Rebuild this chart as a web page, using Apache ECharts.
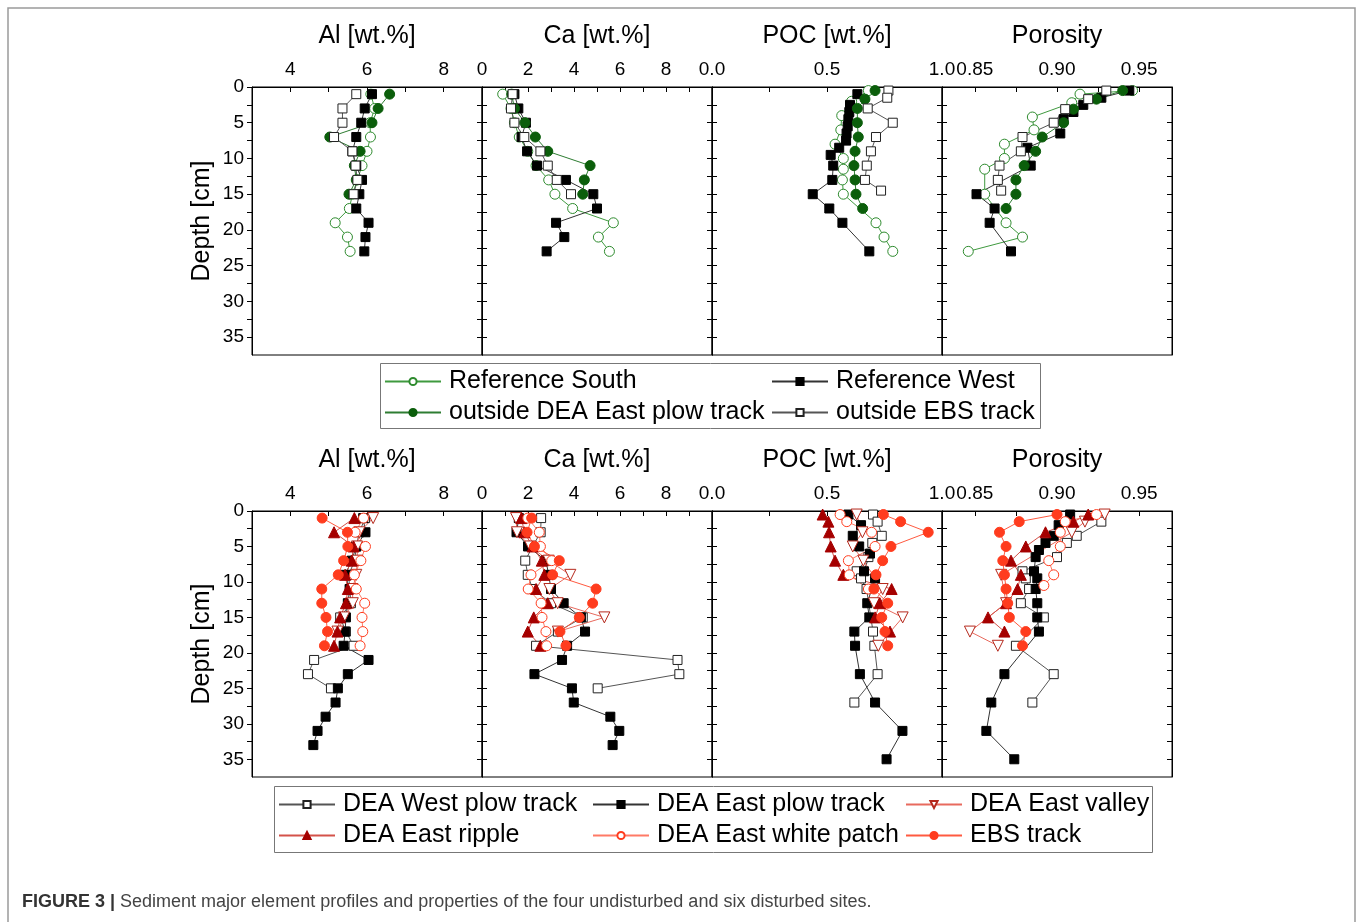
<!DOCTYPE html>
<html lang="en">
<head>
<meta charset="UTF-8">
<title>Figure 3</title>
<script src="https://cdn.jsdelivr.net/npm/echarts@6/dist/echarts.min.js"></script>
<style>
  html, body { margin: 0; padding: 0; background: #fff; }
  #main { width: 1358px; height: 922px; }
</style>
</head>
<body>
<div id="main"></div>
<script>
// depth steps (cm)
var dOdd15 = [1, 3, 5, 7, 9, 11, 13, 15];
var dOdd17 = [1, 3, 5, 7, 9, 11, 13, 15, 17];
var dOdd19 = [1, 3, 5, 7, 9, 11, 13, 15, 17, 19];
var dOdd23 = [1, 3, 5, 7, 9, 11, 13, 15, 17, 19, 21, 23];
var dOdd25 = [1, 3, 5, 7, 9, 11, 13, 15, 17, 19, 21, 23, 25];
var dOdd33 = [1, 3, 5, 7, 9, 11, 13, 15, 17, 19, 21, 23, 25, 27, 29, 31, 33];

// ---- undisturbed sites (top row) ----
var topAlRefSouth = [6.10, 6.20, 6.08, 6.09, 6.00, 5.87, 5.75, 5.62, 5.54, 5.17, 5.49, 5.56];
var topAlRefWest  = [6.13, 5.94, 5.85, 5.72, 5.62, 5.72, 5.87, 5.80, 5.72, 6.04, 5.96, 5.93];
var topAlPlow     = [6.59, 6.29, 6.13, 5.03, 5.82, 5.67, 5.72, 5.53];
var topAlEbs      = [5.72, 5.36, 5.36, 5.14, 5.62, 5.70, 5.75, 5.65];

var topCaRefSouth = [0.90, 1.26, 1.41, 1.62, 1.99, 2.35, 2.90, 3.17, 3.94, 5.71, 5.06, 5.54];
var topCaRefWest  = [1.41, 1.58, 1.91, 1.72, 1.96, 2.39, 3.65, 4.84, 5.00, 3.22, 3.58, 2.81];
var topCaPlow     = [1.29, 1.41, 1.87, 2.32, 2.86, 4.70, 4.45, 4.38];
var topCaEbs      = [1.33, 1.26, 1.41, 1.84, 2.54, 2.86, 3.25, 3.87];

var topPocRefSouthD = [0.5, 2, 4, 6, 8, 10, 11.5, 13, 15, 19, 21, 23];
var topPocRefSouth  = [0.680, 0.607, 0.564, 0.560, 0.535, 0.571, 0.571, 0.567, 0.571, 0.713, 0.748, 0.786];
var topPocRefWestD  = [1, 2.5, 3.5, 4.5, 5.5, 6.5, 7.5, 8.5, 9.5, 11, 13, 15, 17, 19, 23];
var topPocRefWest   = [0.632, 0.600, 0.597, 0.593, 0.590, 0.585, 0.583, 0.553, 0.516, 0.527, 0.523, 0.438, 0.510, 0.567, 0.684];
var topPocPlowD     = [0.5, 1.7, 3, 5, 7, 9, 11, 13, 15, 17];
var topPocPlow      = [0.709, 0.665, 0.632, 0.632, 0.636, 0.622, 0.617, 0.622, 0.626, 0.655];
var topPocEbsD      = [0.5, 1.5, 3, 5, 7, 9, 11, 13, 14.5];
var topPocEbs       = [0.767, 0.762, 0.677, 0.786, 0.713, 0.691, 0.673, 0.665, 0.735];

var topPorRefSouthD = [0.5, 1, 2.2, 4.2, 6, 8, 10, 11.5, 15, 19, 21, 23];
var topPorRefSouth  = [0.946, 0.914, 0.909, 0.885, 0.886, 0.868, 0.868, 0.856, 0.856, 0.869, 0.879, 0.846];
var topPorRefWestD  = [0.5, 1.5, 2.5, 3.5, 4.5, 6.5, 8.5, 11, 15, 17, 19, 23];
var topPorRefWest   = [0.944, 0.927, 0.916, 0.910, 0.904, 0.902, 0.882, 0.884, 0.851, 0.862, 0.859, 0.872];
var topPorPlowD     = [0.5, 1.7, 3.1, 5, 7, 9, 11, 13, 15, 17];
var topPorPlow      = [0.940, 0.924, 0.910, 0.904, 0.891, 0.887, 0.880, 0.875, 0.875, 0.869];
var topPorEbsD      = [0.5, 1.7, 3.1, 5, 7, 9, 11, 13, 14.5];
var topPorEbs       = [0.930, 0.919, 0.905, 0.898, 0.879, 0.878, 0.865, 0.864, 0.866];

// ---- disturbed sites (bottom row) ----
var botAlWest   = [5.95, 5.80, 5.72, 5.68, 5.52, 5.55, 5.58, 5.30, 5.45, 5.65, 4.62, 4.46, 5.06];
var botAlEast   = [5.90, 5.96, 5.72, 5.60, 5.43, 5.55, 5.50, 5.45, 5.43, 5.39, 6.04, 5.50, 5.24, 5.18, 4.92, 4.71, 4.60];
var botAlValley = [6.16, 5.80, 5.74, 5.75, 5.72, 5.62, 5.63, 5.40, 5.23];
var botAlRipple = [5.67, 5.14, 5.65, 5.60, 5.43, 5.50, 5.45, 5.30, 5.23, 5.14];
var botAlWhite  = [5.91, 5.69, 5.96, 5.84, 5.67, 5.72, 5.94, 5.87, 5.89, 5.82];
var botAlEbs    = [4.83, 5.49, 5.50, 5.39, 5.25, 4.82, 4.82, 4.93, 4.97, 4.89];

var botCaWest   = [2.57, 2.55, 2.20, 1.88, 1.99, 2.20, 3.00, 4.38, 3.30, 2.35, 8.50, 8.58, 5.03];
var botCaEast   = [1.60, 1.50, 2.00, 2.78, 2.90, 3.00, 3.55, 4.30, 4.48, 3.70, 3.48, 2.28, 3.91, 3.99, 5.58, 5.97, 5.68];
var botCaValley = [1.48, 1.52, 2.10, 2.90, 3.84, 2.93, 3.29, 5.32, 3.30];
var botCaRipple = [1.72, 1.84, 2.20, 2.60, 2.71, 2.35, 2.86, 2.25, 1.99, 2.54];
var botCaWhite  = [1.99, 2.49, 2.54, 3.03, 2.13, 2.01, 2.57, 2.61, 2.78, 2.81];
var botCaEbs    = [2.16, 1.96, 2.28, 3.36, 3.07, 4.96, 4.81, 4.23, 3.39, 3.65];

var botPocWestD   = [0.5, 1.5, 3.5, 4.5, 6.5, 8.5, 9.5, 11, 17, 19, 23, 27];
var botPocWest    = [0.700, 0.720, 0.738, 0.697, 0.680, 0.629, 0.648, 0.672, 0.700, 0.706, 0.720, 0.619];
var botPocEastD   = [0.5, 2, 3.5, 5, 6, 8.5, 9.5, 13, 15, 17, 19, 23, 27, 31, 35];
var botPocEast    = [0.593, 0.648, 0.612, 0.640, 0.687, 0.661, 0.709, 0.675, 0.684, 0.619, 0.622, 0.643, 0.709, 0.828, 0.759];
var botPocValleyD = [0.5, 3, 5, 7, 11, 13, 15, 19];
var botPocValley  = [0.629, 0.654, 0.612, 0.658, 0.742, 0.704, 0.829, 0.723];
var botPocRippleD = [0.5, 1.5, 3, 5, 7, 9, 11, 13, 15, 17];
var botPocRipple  = [0.481, 0.506, 0.509, 0.516, 0.535, 0.571, 0.781, 0.730, 0.709, 0.774];
var botPocWhiteD  = [0.5, 1.5, 3, 5, 7, 9, 11];
var botPocWhite   = [0.557, 0.586, 0.694, 0.709, 0.593, 0.597, 0.680];
var botPocEbsD    = [0.5, 1.5, 3, 5, 7, 9, 11, 13, 15, 17, 19];
var botPocEbs     = [0.745, 0.820, 0.940, 0.778, 0.742, 0.713, 0.704, 0.764, 0.738, 0.752, 0.764];

var botPorWestD   = [1.5, 3.5, 4.5, 6.5, 8.5, 9.5, 11, 13, 15, 19, 23, 27];
var botPorWest    = [0.927, 0.912, 0.906, 0.900, 0.879, 0.881, 0.883, 0.878, 0.892, 0.875, 0.898, 0.885];
var botPorEastD   = [0.5, 2, 3.5, 4.5, 5.5, 6.5, 8.5, 9.5, 11, 13, 15, 17, 23, 27, 31, 35];
var botPorEast    = [0.908, 0.901, 0.898, 0.893, 0.889, 0.887, 0.886, 0.888, 0.887, 0.888, 0.888, 0.889, 0.868, 0.860, 0.857, 0.874];
var botPorValleyD = [0.5, 1.5, 3, 9, 13, 17, 19];
var botPorValley  = [0.929, 0.917, 0.909, 0.866, 0.869, 0.847, 0.864];
var botPorRippleD = [0.5, 1.5, 3, 5, 7, 9, 11, 13, 15, 17];
var botPorRipple  = [0.919, 0.910, 0.893, 0.881, 0.872, 0.878, 0.876, 0.869, 0.858, 0.868];
var botPorWhiteD  = [0.5, 1.5, 3, 5, 7, 9, 10.5];
var botPorWhite   = [0.924, 0.905, 0.902, 0.902, 0.895, 0.898, 0.892];
var botPorEbsD    = [0.5, 1.5, 3, 5, 7, 9, 11, 13, 15, 17, 19];
var botPorEbs     = [0.900, 0.877, 0.865, 0.869, 0.867, 0.868, 0.869, 0.870, 0.871, 0.881, 0.879];

// axes
var axisNames   = ['Al [wt.%]', 'Ca [wt.%]', 'POC [wt.%]', 'Porosity'];
var axisMin     = [3, 0, 0, 0.83];
var axisMax     = [9, 10, 1, 0.97];
var axisTicks   = [[4, 5, 6, 7, 8], [1, 2, 3, 4, 5, 6, 7, 8, 9], [0.25, 0.5, 0.75], [0.85, 0.875, 0.9, 0.925, 0.95]];
var axisLabels  = [[4, 6, 8], [0, 2, 4, 6, 8], [0, 0.5, 1], [0.85, 0.9, 0.95]];
var axisDec     = [0, 0, 1, 2];
var depthTicks  = [0, 2.5, 5, 7.5, 10, 12.5, 15, 17.5, 20, 22.5, 25, 27.5, 30, 32.5, 35];
var depthLabels = [0, 5, 10, 15, 20, 25, 30, 35];

var FONT = '"Liberation Sans", Arial, sans-serif';

var styles = {
    'Reference South':             {symbol: 'circle',   size: 10, fill: '#fff',    stroke: '#2e8b2e', line: '#3f9a3f'},
    'Reference West':              {symbol: 'rect',     size: 9,  fill: '#000',    stroke: '#000',    line: '#333'},
    'outside DEA East plow track': {symbol: 'circle',   size: 10, fill: '#0b5e0b', stroke: '#0b5e0b', line: '#2e7d32'},
    'outside EBS track':           {symbol: 'rect',     size: 9,  fill: '#fff',    stroke: '#222',    line: '#555'},
    'DEA West plow track':         {symbol: 'rect',     size: 9,  fill: '#fff',    stroke: '#222',    line: '#555'},
    'DEA East plow track':         {symbol: 'rect',     size: 9,  fill: '#000',    stroke: '#000',    line: '#333'},
    'DEA East valley':             {symbol: 'triangle', size: 11, fill: '#fff',    stroke: '#b5281c', line: '#e86a5e', rotate: 180},
    'DEA East ripple':             {symbol: 'triangle', size: 11, fill: '#a50000', stroke: '#a50000', line: '#d4524a'},
    'DEA East white patch':        {symbol: 'circle',   size: 10, fill: '#fff',    stroke: '#ff3c1e', line: '#ff7a66'},
    'EBS track':                   {symbol: 'circle',   size: 10, fill: '#ff3c1e', stroke: '#ff3c1e', line: '#ff5a40'}
};

// [row, panel, series name, values, depths]
var layers = [
    [0, 0, 'Reference South', topAlRefSouth, dOdd23],
    [0, 0, 'Reference West', topAlRefWest, dOdd23],
    [0, 0, 'outside DEA East plow track', topAlPlow, dOdd15],
    [0, 0, 'outside EBS track', topAlEbs, dOdd15],
    [0, 1, 'Reference South', topCaRefSouth, dOdd23],
    [0, 1, 'Reference West', topCaRefWest, dOdd23],
    [0, 1, 'outside DEA East plow track', topCaPlow, dOdd15],
    [0, 1, 'outside EBS track', topCaEbs, dOdd15],
    [0, 2, 'Reference South', topPocRefSouth, topPocRefSouthD],
    [0, 2, 'Reference West', topPocRefWest, topPocRefWestD],
    [0, 2, 'outside DEA East plow track', topPocPlow, topPocPlowD],
    [0, 2, 'outside EBS track', topPocEbs, topPocEbsD],
    [0, 3, 'Reference South', topPorRefSouth, topPorRefSouthD],
    [0, 3, 'Reference West', topPorRefWest, topPorRefWestD],
    [0, 3, 'outside DEA East plow track', topPorPlow, topPorPlowD],
    [0, 3, 'outside EBS track', topPorEbs, topPorEbsD],

    [1, 0, 'DEA West plow track', botAlWest, dOdd25],
    [1, 0, 'DEA East plow track', botAlEast, dOdd33],
    [1, 0, 'DEA East valley', botAlValley, dOdd17],
    [1, 0, 'DEA East ripple', botAlRipple, dOdd19],
    [1, 0, 'DEA East white patch', botAlWhite, dOdd19],
    [1, 0, 'EBS track', botAlEbs, dOdd19],
    [1, 1, 'DEA West plow track', botCaWest, dOdd25],
    [1, 1, 'DEA East plow track', botCaEast, dOdd33],
    [1, 1, 'DEA East valley', botCaValley, dOdd17],
    [1, 1, 'DEA East ripple', botCaRipple, dOdd19],
    [1, 1, 'DEA East white patch', botCaWhite, dOdd19],
    [1, 1, 'EBS track', botCaEbs, dOdd19],
    [1, 2, 'DEA West plow track', botPocWest, botPocWestD],
    [1, 2, 'DEA East plow track', botPocEast, botPocEastD],
    [1, 2, 'DEA East valley', botPocValley, botPocValleyD],
    [1, 2, 'DEA East ripple', botPocRipple, botPocRippleD],
    [1, 2, 'DEA East white patch', botPocWhite, botPocWhiteD],
    [1, 2, 'EBS track', botPocEbs, botPocEbsD],
    [1, 3, 'DEA West plow track', botPorWest, botPorWestD],
    [1, 3, 'DEA East plow track', botPorEast, botPorEastD],
    [1, 3, 'DEA East valley', botPorValley, botPorValleyD],
    [1, 3, 'DEA East ripple', botPorRipple, botPorRippleD],
    [1, 3, 'DEA East white patch', botPorWhite, botPorWhiteD],
    [1, 3, 'EBS track', botPorEbs, botPorEbsD]
];

var gridLeft = [252, 482, 712, 942];
var gridTop = [87, 511];
var gridHeight = [268, 266];

var grids = [], xAxes = [], yAxes = [], series = [];

for (var r = 0; r < 2; r++) {
    for (var p = 0; p < 4; p++) {
        var g = r * 4 + p;
        grids.push({
            left: gridLeft[p], top: gridTop[r], width: 230, height: gridHeight[r],
            show: true, borderColor: '#000', borderWidth: 1, backgroundColor: 'transparent'
        });
        (function (p) {
            xAxes.push({
                type: 'value', gridIndex: g, position: 'top',
                min: axisMin[p], max: axisMax[p],
                name: axisNames[p], nameLocation: 'middle', nameGap: 38,
                nameTextStyle: {fontSize: 25, color: '#000', fontFamily: FONT},
                axisLine: {show: true, lineStyle: {color: '#000', width: 1}},
                axisTick: {show: true, inside: true, length: 5, lineStyle: {color: '#000'}, customValues: axisTicks[p]},
                axisLabel: {
                    show: true, margin: 8, fontSize: 19, color: '#000', fontFamily: FONT,
                    customValues: axisLabels[p],
                    formatter: function (v) { return Number(v).toFixed(axisDec[p]); }
                },
                splitLine: {show: false}
            });
        })(p);
        var first = (p === 0);
        yAxes.push({
            type: 'value', gridIndex: g, position: 'left', inverse: true,
            min: 0, max: 37.5,
            name: first ? 'Depth [cm]' : '', nameLocation: 'middle', nameGap: 37,
            nameTextStyle: {fontSize: 25, color: '#000', fontFamily: FONT},
            axisLine: {show: true, lineStyle: {color: '#000', width: 1}},
            axisTick: {show: true, inside: !first, length: 5, lineStyle: {color: '#000'}, customValues: depthTicks},
            axisLabel: {show: first, margin: 8, fontSize: 19, color: '#000', fontFamily: FONT, customValues: depthLabels},
            splitLine: {show: false}
        });
        yAxes.push({
            type: 'value', gridIndex: g, position: 'right', inverse: true,
            min: 0, max: 37.5,
            axisLine: {show: true, lineStyle: {color: '#000', width: 1}},
            axisTick: {show: true, inside: true, length: 5, lineStyle: {color: '#000'}, customValues: depthTicks},
            axisLabel: {show: false},
            splitLine: {show: false}
        });
    }
}

layers.forEach(function (l) {
    var g = l[0] * 4 + l[1];
    var s = styles[l[2]];
    var vals = l[3], deps = l[4];
    series.push({
        name: l[2], type: 'line',
        xAxisIndex: g, yAxisIndex: g * 2,
        data: vals.map(function (v, i) { return [v, deps[i]]; }),
        symbol: s.symbol, symbolSize: s.size, symbolRotate: s.rotate || 0,
        showAllSymbol: true, smooth: false, animation: false,
        lineStyle: {color: s.line, width: 1},
        itemStyle: {color: s.fill, borderColor: s.stroke, borderWidth: 1},
        emphasis: {disabled: true}
    });
});

function legendCol(left, top, names) {
    return {
        orient: 'vertical', left: left, top: top,
        data: names, itemWidth: 56, itemHeight: 9, itemGap: 6,
        selectedMode: false, padding: 0,
        textStyle: {fontSize: 25, color: '#000', fontFamily: FONT, padding: [0, 0, 0, 3]}
    };
}

var option = {
    animation: false,
    backgroundColor: '#fff',
    grid: grids,
    xAxis: xAxes,
    yAxis: yAxes,
    series: series,
    legend: [
        legendCol(384, 369, ['Reference South', 'outside DEA East plow track']),
        legendCol(771, 369, ['Reference West', 'outside EBS track'])],
    graphic: [
        {type: 'rect', shape: {x: 8, y: 8, width: 1347, height: 940},
         style: {fill: 'none', stroke: '#9a9a9a', lineWidth: 1.5}, silent: true},
        {type: 'rect', shape: {x: 380.5, y: 363.5, width: 660, height: 65},
         style: {fill: 'none', stroke: '#777', lineWidth: 1}, silent: true},
        {type: 'rect', shape: {x: 274.5, y: 786.5, width: 878, height: 66},
         style: {fill: 'none', stroke: '#777', lineWidth: 1}, silent: true},
        {type: 'text', left: 22, top: 893, silent: true,
         style: {
             text: '{b|FIGURE 3 |} Sediment major element profiles and properties of the four undisturbed and six disturbed sites.',
             fontSize: 18, fill: '#444', fontFamily: FONT,
             rich: {b: {fontWeight: 'bold', fontSize: 18, fill: '#333', fontFamily: FONT}}
         }}
    ]
};

option.legend.push(legendCol(278, 792, ['DEA West plow track', 'DEA East ripple']));
option.legend.push(legendCol(592, 792, ['DEA East plow track', 'DEA East white patch']));
option.legend.push(legendCol(905, 792, ['DEA East valley', 'EBS track']));

var myChart = echarts.init(document.getElementById('main'), null, {renderer: 'canvas'});
myChart.setOption(option);
</script>
</body>
</html>
